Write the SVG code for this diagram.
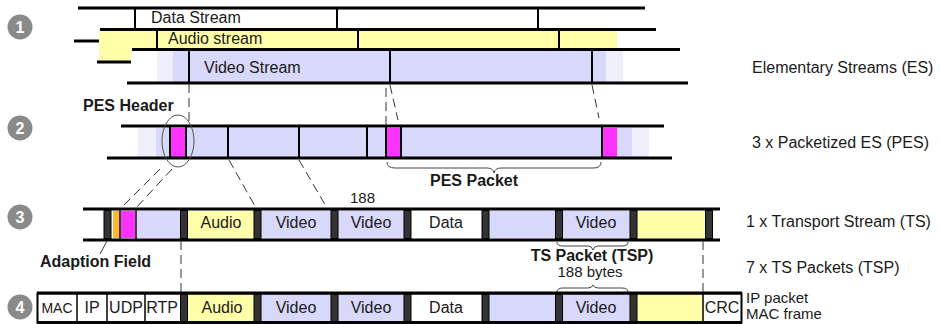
<svg xmlns="http://www.w3.org/2000/svg" width="940" height="324" viewBox="0 0 940 324">
<defs>
<style>
text{font-family:"Liberation Sans",Arial,sans-serif;fill:#1a1a1a;font-size:16px}
.b{font-weight:bold}
.c{text-anchor:middle}
.hl{stroke:#000;stroke-width:3;fill:none}
.vl{stroke:#000;stroke-width:2;fill:none}
.thin{stroke:#000;stroke-width:1.5;fill:none}
.dash{stroke:#333;stroke-width:1;fill:none;stroke-dasharray:9 5}
.ln{stroke:#444;stroke-width:1;fill:none}
.yel{fill:#FFFFAA}
.lav{fill:#D8D8FA}
.llav{fill:#EFEFFC}
.mag{fill:#FF33FF}
.org{fill:#FFB833}
.sep{fill:#333;stroke:#000;stroke-width:1}
.num circle{fill:#8a8a8a}
.num text{fill:#fff;font-weight:bold;font-size:16px;text-anchor:middle}
</style>
</defs>

<g id="markers">
<g class="num" id="n1"><circle cx="20" cy="27" r="12.5"/><text x="20" y="33">1</text></g>
<g class="num" id="n2"><circle cx="20" cy="128" r="12.5"/><text x="20" y="134">2</text></g>
<g class="num" id="n3"><circle cx="20" cy="217" r="12.5"/><text x="20" y="223">3</text></g>
<g class="num" id="n4"><circle cx="20" cy="307" r="12.5"/><text x="20" y="313">4</text></g>
</g>

<g id="es">
<g id="data-stream">
<line class="hl" x1="78" y1="8" x2="645" y2="8"/>
<line class="vl" x1="135" y1="8" x2="135" y2="29"/>
<line class="vl" x1="337" y1="8" x2="337" y2="29"/>
<line class="vl" x1="538" y1="8" x2="538" y2="29"/>
<text x="151" y="23">Data Stream</text>
</g>
<g id="audio-stream">
<rect class="yel" x="99" y="31" width="518" height="30"/>
<line class="hl" x1="74" y1="41" x2="99" y2="41"/>
<line class="hl" x1="100" y1="29.5" x2="656" y2="29.5"/>
<line class="hl" x1="97" y1="62" x2="131" y2="62"/>
<line class="vl" x1="157" y1="31" x2="157" y2="48"/>
<line class="vl" x1="358" y1="31" x2="358" y2="48"/>
<line class="vl" x1="559" y1="31" x2="559" y2="48"/>
<text x="168" y="44">Audio stream</text>
</g>
<g id="video-stream">
<rect fill="#fff" x="131" y="50" width="560" height="32"/>
<rect class="llav" x="157" y="51" width="16" height="31"/>
<rect class="lav" x="173" y="51" width="433" height="31"/>
<rect class="llav" x="606" y="51" width="17" height="31"/>
<line class="hl" x1="132" y1="49.5" x2="680" y2="49.5"/>
<line class="hl" x1="127" y1="83" x2="688" y2="83"/>
<line class="vl" x1="189" y1="51" x2="189" y2="83"/>
<line class="vl" x1="390" y1="51" x2="390" y2="83"/>
<line class="vl" x1="592" y1="51" x2="592" y2="83"/>
<text x="204" y="73">Video Stream</text>
</g>
</g>

<g id="pes">
<rect class="llav" x="138" y="128" width="18" height="29"/>
<rect class="lav" x="156" y="128" width="476" height="29"/>
<rect class="llav" x="632" y="128" width="17" height="29"/>
<rect class="mag" x="171" y="128" width="14" height="29"/>
<rect class="mag" x="387" y="128" width="14" height="29"/>
<rect class="mag" x="603" y="128" width="14" height="29"/>
<line class="hl" x1="121" y1="126" x2="664" y2="126"/>
<line class="hl" x1="107" y1="158" x2="672" y2="158"/>
<line class="vl" x1="170" y1="127" x2="170" y2="157"/>
<line class="vl" x1="186" y1="127" x2="186" y2="157"/>
<line class="vl" x1="228" y1="127" x2="228" y2="157"/>
<line class="vl" x1="299" y1="127" x2="299" y2="157"/>
<line class="vl" x1="367" y1="127" x2="367" y2="157"/>
<line class="vl" x1="386" y1="127" x2="386" y2="157"/>
<line class="vl" x1="401" y1="127" x2="401" y2="157"/>
<line class="vl" x1="602" y1="127" x2="602" y2="157"/>
</g>

<g id="pes-header">
<ellipse cx="178" cy="141" rx="16" ry="26" fill="none" stroke="#555" stroke-width="1"/>
<text class="b" x="83" y="111">PES Header</text>
</g>

<g id="pes-packet">
<path class="ln" d="M387,162 Q387,168 395,168 L487,168 Q493,168 494,173 Q495,168 501,168 L594,168 Q601,168 601,162"/>
<text class="b" x="430" y="186">PES Packet</text>
</g>

<g id="ts">
<line class="hl" x1="83" y1="209" x2="720" y2="209"/>
<line class="hl" x1="83" y1="240" x2="720" y2="240"/>
<rect class="org" x="113" y="211" width="6" height="27"/>
<rect class="mag" x="121" y="211" width="14" height="27"/>
<rect class="lav" x="137" y="211" width="43" height="27"/>
<rect class="yel" x="188" y="211" width="66" height="27"/>
<rect class="lav" x="261" y="211" width="70" height="27"/>
<rect class="lav" x="338" y="211" width="66" height="27"/>
<rect fill="#fff" x="411" y="211" width="71" height="27"/>
<rect class="lav" x="489" y="211" width="66" height="27"/>
<rect class="lav" x="563" y="211" width="67" height="27"/>
<rect class="yel" x="637" y="211" width="68" height="27"/>
<line class="thin" x1="120" y1="210" x2="120" y2="239"/>
<line class="thin" x1="136" y1="210" x2="136" y2="239"/>
<rect class="sep" x="104" y="210.5" width="7" height="28"/>
<rect class="sep" x="180.5" y="210.5" width="7" height="28"/>
<rect class="sep" x="254" y="210.5" width="7" height="28"/>
<rect class="sep" x="331" y="210.5" width="7" height="28"/>
<rect class="sep" x="404" y="210.5" width="7" height="28"/>
<rect class="sep" x="482" y="210.5" width="7" height="28"/>
<rect class="sep" x="555.5" y="210.5" width="7" height="28"/>
<rect class="sep" x="630" y="210.5" width="7" height="28"/>
<rect class="sep" x="705.5" y="210.5" width="7" height="28"/>
<text class="c" x="221" y="228">Audio</text>
<text class="c" x="296" y="228">Video</text>
<text class="c" x="371" y="228">Video</text>
<text class="c" x="446" y="228">Data</text>
<text class="c" x="596" y="228">Video</text>
<text x="350" y="203" style="font-size:15px">188</text>
</g>

<g id="adaption-field">
<line class="ln" x1="107" y1="241" x2="100" y2="254"/>
<text class="b" x="40" y="267">Adaption Field</text>
</g>

<g id="ts-packet">
<path class="ln" d="M557,242 Q557,246 563,246 L588,246 Q592,246 593,250 Q594,246 598,246 L622,246 Q628,246 628,242"/>
<text class="b c" x="592" y="261">TS Packet (TSP)</text>
<text class="c" x="590" y="277" style="font-size:15px">188 bytes</text>
<path class="ln" d="M557,292 Q557,288 563,288 L588,288 Q592,288 593,285 Q594,288 598,288 L622,288 Q628,288 628,292"/>
</g>

<g id="ip">
<rect fill="#fff" x="37" y="294" width="705" height="28"/>
<rect class="yel" x="188" y="294" width="66" height="28"/>
<rect class="lav" x="261" y="294" width="70" height="28"/>
<rect class="lav" x="338" y="294" width="66" height="28"/>
<rect class="lav" x="489" y="294" width="66" height="28"/>
<rect class="lav" x="563" y="294" width="67" height="28"/>
<rect class="yel" x="637" y="294" width="66" height="28"/>
<line class="thin" x1="77" y1="294" x2="77" y2="322"/>
<line class="thin" x1="107" y1="294" x2="107" y2="322"/>
<line class="thin" x1="145" y1="294" x2="145" y2="322"/>
<line class="thin" x1="703" y1="294" x2="703" y2="322"/>
<rect class="sep" x="180.5" y="294" width="7" height="28"/>
<rect class="sep" x="254" y="294" width="7" height="28"/>
<rect class="sep" x="331" y="294" width="7" height="28"/>
<rect class="sep" x="404" y="294" width="7" height="28"/>
<rect class="sep" x="482" y="294" width="7" height="28"/>
<rect class="sep" x="555.5" y="294" width="7" height="28"/>
<rect class="sep" x="630" y="294" width="7" height="28"/>
<rect x="37.5" y="293.5" width="704" height="29" fill="none" stroke="#000" stroke-width="2"/>
<line class="hl" x1="37" y1="293" x2="742" y2="293"/>
<line class="hl" x1="37" y1="322.5" x2="742" y2="322.5"/>
<text class="c" x="57" y="313" style="font-size:14px">MAC</text>
<text class="c" x="92" y="313">IP</text>
<text class="c" x="126" y="313">UDP</text>
<text class="c" x="162" y="313">RTP</text>
<text class="c" x="222" y="313">Audio</text>
<text class="c" x="296" y="313">Video</text>
<text class="c" x="371" y="313">Video</text>
<text class="c" x="446" y="313">Data</text>
<text class="c" x="596" y="313">Video</text>
<text class="c" x="722" y="313">CRC</text>
</g>

<g id="labels">
<text x="752" y="73">Elementary Streams (ES)</text>
<text x="752" y="148">3 x Packetized ES (PES)</text>
<text x="746" y="227">1 x Transport Stream (TS)</text>
<text x="746" y="273">7 x TS Packets (TSP)</text>
<text x="746" y="303" style="font-size:15px">IP packet</text>
<text x="746" y="319" style="font-size:15px">MAC frame</text>
</g>

<g id="connectors">
<line class="dash" x1="189" y1="84" x2="189" y2="125"/>
<line class="dash" x1="386" y1="88" x2="386" y2="125"/>
<line class="dash" x1="390" y1="85" x2="398" y2="120"/>
<line class="dash" x1="592" y1="85" x2="599" y2="118"/>
<line class="dash" x1="160" y1="169" x2="121" y2="208"/>
<line class="dash" x1="172" y1="169" x2="136" y2="208"/>
<line class="dash" x1="229" y1="160" x2="256" y2="208"/>
<line class="dash" x1="299" y1="160" x2="327" y2="208"/>
<line class="dash" x1="181" y1="241" x2="181" y2="292"/>
<line class="dash" x1="703" y1="241" x2="703" y2="292"/>
</g>
</svg>
